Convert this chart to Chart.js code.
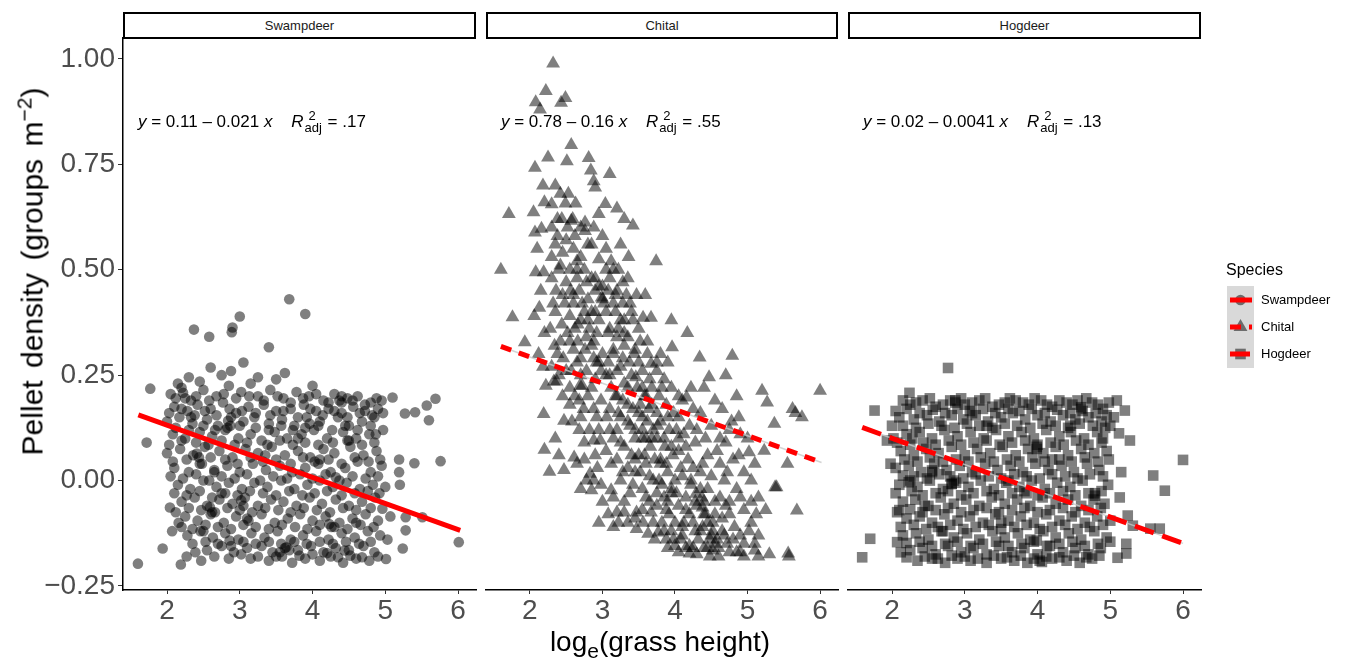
<!DOCTYPE html>
<html>
<head>
<meta charset="utf-8">
<title>Pellet density vs grass height</title>
<script src="https://cdn.jsdelivr.net/npm/chart.js@4.4.1/dist/chart.umd.min.js"></script>
<style>
  html, body { margin: 0; padding: 0; background: #fff; }
  #wrap { position: relative; width: 1346px; height: 662px; overflow: hidden; font-family: "Liberation Sans", Arial, sans-serif; }
  #wrap canvas { position: absolute; left: 0; top: 0; }
  .strip { position: absolute; top: 12px; height: 27px; box-sizing: border-box; border: 2px solid #000; background: #fff; font-size: 13px; color: #1a1a1a; text-align: center; line-height: 23px; }
  .eq { position: absolute; top: 112px; font-size: 17px; color: #000; white-space: nowrap; z-index: 2; }
  .eq .ss { display: inline-block; position: relative; width: 24px; height: 10px; font-size: 13px; }
  .eq .ss .sup { position: absolute; left: 5px; top: -9px; }
  .eq .ss .sub { position: absolute; left: 1px; top: 3px; }
  .ytitle { position: absolute; left: -219px; top: 253px; width: 500px; text-align: center; font-size: 30px; word-spacing: 4px; transform: rotate(-90deg); white-space: nowrap; z-index: 2; }
  .xtitle { position: absolute; left: 410px; top: 626px; width: 500px; text-align: center; font-size: 28px; white-space: nowrap; z-index: 2; }
  .ytitle sup, .xtitle sub { font-size: 21px; }
  .legend-title { position: absolute; left: 1226px; top: 261px; font-size: 16px; color: #000; z-index: 2; }
  .legend-label { position: absolute; left: 1261px; font-size: 13px; color: #000; z-index: 2; line-height: 16px; }
</style>
</head>
<body>
<div id="wrap">
  <canvas id="panel-0" width="1346" height="662"></canvas>
  <canvas id="panel-1" width="1346" height="662"></canvas>
  <canvas id="panel-2" width="1346" height="662"></canvas>
  <div class="ytitle">Pellet density (groups m<sup>−2</sup>)</div>
  <div class="xtitle">log<sub>e</sub>(grass height)</div>
  <div class="legend-title">Species</div>
</div>
<script>
(() => {
  const species = ["Swampdeer", "Chital", "Hogdeer"];
  const xTicks = [2, 3, 4, 5, 6];
  const yTicks = [-0.25, 0, 0.25, 0.5, 0.75, 1.0];
  const eqIntercept = ["0.11", "0.78", "0.02"];
  const eqSlope = ["0.021", "0.16", "0.0041"];
  const eqR2 = [".17", ".55", ".13"];

  // fitted lines, start and end
  const fitSwampdeer = [[1.606, 0.156], [6.03, -0.118]];
  const fitChital = [[1.60, 0.318], [6.02, 0.043]];
  const fitHogdeer = [[1.59, 0.126], [6.0, -0.149]];

  const swampdeerPts = [
    [1.60,-0.197],[1.72,0.09],[1.77,0.218],[1.94,-0.161],[2.19,-0.199],[2.27,-0.18],[2.39,-0.17],[2.47,-0.19],
    [2.04,-0.064],[2.07,-0.12],[2.16,-0.10],[2.37,0.358],[2.58,0.341],[3.0,0.389],[2.9,0.363],[2.89,0.352],
    [3.4,0.316],[3.68,0.43],[3.9,0.395],[6.01,-0.146],[5.76,0.046],[5.4,0.041],[5.69,0.194],[5.57,0.178],
    [5.6,0.143],[5.41,0.162],[5.27,0.159],[5.1,0.197],[5.19,0.05],[5.19,0.02],[5.2,-0.01],[5.24,-0.161],
    [5.28,-0.118],[5.28,-0.087],[5.51,-0.087],[5.07,-0.085],[5.03,-0.14],[5.01,-0.186],[4.96,-0.067],
    [2.6,0.268],[3.05,0.28],[2.75,0.25],[2.3,0.245],[2.45,0.235],[3.25,0.245],[3.5,0.24],[3.62,0.255],
    [2.88,0.26],[3.15,0.23],[2.15,0.23],[4.0,0.225],
    [2.05,0.205],[2.2,0.22],[2.33,0.19],[2.5,0.215],[2.68,0.2],[2.85,0.225],[3.02,0.21],[3.25,0.2],[3.42,0.215],
    [3.6,0.195],[3.78,0.21],[3.95,0.2],[4.15,0.19],[4.3,0.205],[4.48,0.195],[4.62,0.2],[4.8,0.185],[4.95,0.19],
    [2.1,0.175],[2.28,0.165],[2.42,0.18],[2.6,0.17],[2.77,0.185],[2.95,0.16],[3.12,0.175],[3.33,0.18],[3.5,0.165],
    [3.7,0.17],[3.88,0.18],[4.05,0.165],[4.22,0.17],[4.4,0.16],[4.56,0.175],[4.72,0.165],[4.9,0.17],
    [2.0,0.14],[2.17,0.15],[2.35,0.135],[2.55,0.145],[2.7,0.13],[2.88,0.15],[3.05,0.14],[3.2,0.15],[3.4,0.135],
    [3.58,0.145],[3.75,0.13],[3.92,0.15],[4.1,0.14],[4.35,0.15],[4.5,0.13],[4.68,0.14],[4.85,0.15],
    [2.08,0.11],[2.25,0.1],[2.45,0.115],[2.62,0.105],[2.8,0.12],[2.98,0.1],[3.15,0.11],[3.3,0.095],[3.48,0.115],
    [3.65,0.1],[3.85,0.11],[4.02,0.12],[4.2,0.1],[4.42,0.115],[4.6,0.1],[4.78,0.11],[4.97,0.12],
    [2.0,0.065],[2.18,0.075],[2.36,0.06],[2.52,0.08],[2.72,0.07],[2.9,0.055],[3.08,0.075],[3.25,0.065],[3.44,0.08],
    [3.62,0.06],[3.8,0.07],[3.97,0.055],[4.15,0.075],[4.3,0.065],[4.52,0.08],[4.7,0.06],[4.88,0.07],
    [2.1,0.03],[2.3,0.02],[2.48,0.04],[2.65,0.025],[2.83,0.035],[3.0,0.02],[3.18,0.04],[3.36,0.025],[3.55,0.035],
    [3.72,0.02],[3.9,0.03],[4.08,0.04],[4.25,0.02],[4.45,0.03],[4.62,0.045],[4.8,0.02],[4.95,0.035],
    [2.15,-0.01],[2.32,-0.02],[2.5,0.0],[2.68,-0.015],[2.85,-0.005],[3.03,-0.02],[3.2,-0.005],[3.38,-0.015],[3.57,0.0],
    [3.75,-0.02],[3.93,-0.01],[4.1,0.0],[4.28,-0.015],[4.47,-0.005],[4.65,-0.02],[4.83,-0.01],[5.0,-0.015],
    [2.2,-0.05],[2.38,-0.04],[2.55,-0.06],[2.72,-0.045],[2.9,-0.055],[3.07,-0.04],[3.25,-0.06],[3.43,-0.045],
    [3.6,-0.05],[3.78,-0.06],[3.96,-0.04],[4.13,-0.055],[4.32,-0.045],[4.5,-0.06],[4.68,-0.05],[4.86,-0.04],
    [2.25,-0.085],[2.42,-0.095],[2.6,-0.08],[2.78,-0.1],[2.95,-0.085],[3.12,-0.095],[3.3,-0.08],[3.48,-0.1],
    [3.66,-0.09],[3.83,-0.08],[4.0,-0.095],[4.18,-0.085],[4.37,-0.1],[4.55,-0.09],[4.73,-0.08],[4.9,-0.095],
    [2.28,-0.13],[2.46,-0.12],[2.63,-0.135],[2.8,-0.125],[2.98,-0.14],[3.16,-0.125],[3.34,-0.135],[3.52,-0.12],
    [3.7,-0.14],[3.87,-0.13],[4.05,-0.12],[4.22,-0.14],[4.4,-0.125],[4.58,-0.135],[4.76,-0.12],[4.93,-0.13],
    [2.55,-0.165],[2.75,-0.155],[2.92,-0.17],[3.1,-0.16],[3.3,-0.155],[3.45,-0.17],[3.62,-0.16],[3.8,-0.165],
    [3.98,-0.155],[4.15,-0.17],[4.32,-0.16],[4.5,-0.165],[4.7,-0.155],[4.85,-0.17],
    [3.15,-0.185],[3.4,-0.19],[3.58,-0.18],[3.72,-0.195],[3.9,-0.185],[4.1,-0.19],[4.25,-0.18],[4.42,-0.195],
    [4.6,-0.185],[4.78,-0.19],
    [2.41,0.064],[2.44,0.055],[3.02,-0.047],[3.05,-0.06],[2.59,-0.063],[2.62,-0.075],[3.64,-0.158],[3.68,-0.165],
    [2.86,-0.142],[2.84,0.142],[2.87,0.13],[2.22,0.208],[2.25,0.195],[4.23,-0.103],[4.26,-0.11],[4.44,-0.166],
    [4.32,0.008],[4.87,0.11],[4.48,0.095],[3.96,0.135],[4.37,0.19],[4.4,0.185],[3.55,-0.17],[3.1,-0.09],
    [2.65,0.02],[2.33,0.15],[3.8,0.1],[4.6,-0.1],[4.1,0.05],[3.35,0.06],[2.5,-0.12],[2.75,-0.03],
    [2.12,0.195],[2.4,0.2],[2.58,0.19],[2.78,0.205],[2.95,0.195],[3.13,0.2],[3.33,0.19],[3.52,0.2],[3.7,0.185],
    [3.87,0.195],[4.05,0.205],[4.22,0.185],[4.4,0.2],[4.55,0.19],[4.72,0.18],[4.88,0.195],
    [2.03,0.16],[2.2,0.17],[2.38,0.155],[2.52,0.165],[2.68,0.155],[2.86,0.17],[3.03,0.165],[3.22,0.16],[3.42,0.155],
    [3.6,0.165],[3.8,0.15],[3.97,0.17],[4.14,0.155],[4.3,0.165],[4.48,0.15],[4.65,0.16],[4.82,0.155],[4.97,0.16],
    [2.12,0.125],[2.3,0.12],[2.5,0.13],[2.66,0.12],[2.83,0.125],[3.0,0.13],[3.22,0.125],[3.4,0.12],[3.57,0.13],
    [3.73,0.12],[3.9,0.125],[4.08,0.13],[4.27,0.12],[4.45,0.13],[4.62,0.12],[4.8,0.13],
    [2.03,0.085],[2.2,0.095],[2.4,0.09],[2.57,0.085],[2.75,0.095],[2.93,0.085],[3.1,0.09],[3.38,0.085],[3.55,0.095],
    [3.73,0.085],[3.9,0.09],[4.08,0.085],[4.28,0.09],[4.5,0.095],[4.68,0.085],[4.85,0.09],
    [2.08,0.045],[2.27,0.05],[2.45,0.04],[2.6,0.055],[2.8,0.05],[2.97,0.04],[3.15,0.055],[3.32,0.045],[3.5,0.05],
    [3.7,0.04],[3.87,0.055],[4.03,0.045],[4.22,0.05],[4.4,0.04],[4.58,0.055],[4.77,0.045],[4.93,0.05],
    [2.05,0.01],[2.22,0.005],[2.4,0.015],[2.58,0.0],[2.75,0.01],[2.93,0.005],[3.1,0.015],[3.28,0.0],[3.46,0.01],
    [3.65,0.005],[3.83,0.015],[4.0,0.005],[4.18,0.015],[4.37,0.0],[4.55,0.01],[4.73,0.005],[4.9,0.01],
    [2.1,-0.03],[2.27,-0.035],[2.45,-0.025],[2.62,-0.04],[2.8,-0.03],[2.97,-0.035],[3.14,-0.025],[3.32,-0.03],
    [3.5,-0.035],[3.68,-0.025],[3.86,-0.035],[4.03,-0.03],[4.2,-0.025],[4.4,-0.035],[4.58,-0.03],[4.76,-0.025],[4.92,-0.03],
    [2.12,-0.075],[2.3,-0.065],[2.47,-0.07],[2.66,-0.075],[2.83,-0.065],[3.0,-0.07],[3.17,-0.075],[3.35,-0.065],
    [3.53,-0.07],[3.7,-0.075],[3.88,-0.065],[4.06,-0.07],[4.24,-0.075],[4.42,-0.065],[4.6,-0.07],[4.8,-0.065],
    [2.2,-0.11],[2.35,-0.115],[2.53,-0.105],[2.7,-0.11],[2.88,-0.115],[3.05,-0.105],[3.22,-0.11],[3.4,-0.115],
    [3.58,-0.105],[3.76,-0.11],[3.93,-0.115],[4.1,-0.105],[4.3,-0.11],[4.48,-0.115],[4.66,-0.105],[4.84,-0.11],
    [2.35,-0.15],[2.53,-0.145],[2.7,-0.15],[2.88,-0.155],[3.05,-0.145],[3.22,-0.15],[3.4,-0.145],[3.57,-0.15],
    [3.75,-0.145],[3.92,-0.15],[4.1,-0.145],[4.28,-0.15],[4.46,-0.145],[4.64,-0.15],[4.8,-0.145],
    [2.65,-0.18],[2.85,-0.185],[3.02,-0.175],[3.25,-0.18],[3.5,-0.18],[3.82,-0.178],[4.0,-0.175],[4.2,-0.172],
    [4.35,-0.182],[4.52,-0.178],[4.68,-0.182],[4.9,-0.18]
  ];

  const chitalPts = [
    [1.6,0.5],[1.71,0.632],[1.76,0.387],[1.93,0.328],
    [2.07,0.742],[2.05,0.636],[2.16,0.597],[2.07,0.588],[2.1,0.55],[2.08,0.494],[2.19,0.494],[2.13,0.41],[2.06,0.39],
    [2.22,0.225],[2.19,0.158],[2.2,0.073],[2.08,0.897],[2.14,0.88],[2.22,0.924],[2.25,0.766],[2.18,0.7],[2.2,0.66],
    [2.15,0.45],[2.2,0.35],[2.12,0.3],[2.18,0.27],
    [2.32,0.989],[2.43,0.896],[2.49,0.907],[2.51,0.757],[2.35,0.7],[2.42,0.68],[2.3,0.655],[2.49,0.657],[2.38,0.62],
    [2.35,0.56],[2.45,0.54],[2.4,0.5],[2.3,0.48],[2.45,0.44],[2.35,0.4],[2.28,0.36],[2.42,0.33],[2.38,0.3],[2.3,0.27],
    [2.33,0.235],[2.37,0.235],[2.45,0.2],[2.47,0.142],[2.35,0.1],[2.47,0.025],[2.27,0.021],[2.4,0.06],
    [2.57,0.796],[2.81,0.765],[2.63,0.657],[2.57,0.616],[2.59,0.62],[2.76,0.612],[2.76,0.592],[2.6,0.55],[2.7,0.53],
    [2.55,0.5],[2.65,0.48],[2.78,0.47],[2.6,0.44],[2.72,0.42],[2.55,0.39],[2.66,0.37],[2.78,0.34],[2.6,0.31],[2.7,0.29],
    [2.57,0.26],[2.69,0.225],[2.72,0.225],[2.62,0.2],[2.74,0.17],[2.58,0.14],[2.68,0.12],[2.75,0.09],[2.61,0.055],
    [2.65,0.04],[2.78,0.0],[2.7,-0.02],
    [2.84,0.735],[2.88,0.71],[2.9,0.695],[3.1,0.727],[3.04,0.656],[2.95,0.632],[3.0,0.58],[2.85,0.56],[2.95,0.525],
    [3.05,0.5],[2.9,0.48],[3.0,0.46],[2.99,0.434],[3.02,0.42],[2.85,0.4],[2.95,0.38],[3.08,0.35],[2.88,0.33],[3.0,0.3],
    [2.92,0.28],[3.05,0.25],[2.85,0.22],[2.98,0.19],[2.88,0.17],[3.06,0.15],[2.95,0.12],[2.88,0.095],[2.97,0.095],
    [3.05,0.07],[2.83,0.016],[2.88,0.0],[2.85,-0.023],[3.12,-0.023],[3.0,-0.05],[2.95,-0.1],[3.15,-0.11],[3.08,-0.08],
    [3.2,0.645],[3.3,0.62],[3.42,0.605],[3.25,0.56],[3.36,0.53],[3.15,0.5],[3.28,0.47],[3.2,0.45],[3.33,0.44],
    [3.38,0.42],[3.18,0.4],[3.3,0.38],[3.22,0.36],[3.35,0.34],[3.15,0.31],[3.28,0.29],[3.37,0.28],[3.2,0.26],
    [3.46,0.245],[3.3,0.23],[3.18,0.2],[3.35,0.18],[3.25,0.15],[3.38,0.13],[3.15,0.1],[3.3,0.08],[3.2,0.05],
    [3.35,0.03],[3.25,0.0],[3.38,-0.03],[3.2,-0.076],[3.3,-0.076],[3.35,-0.1],
    [3.74,0.52],[3.47,0.44],[3.59,0.44],[3.56,0.386],[3.67,0.386],[3.5,0.36],[3.62,0.33],[3.45,0.31],[3.67,0.277],
    [3.55,0.26],[3.65,0.24],[3.48,0.22],[3.58,0.2],[3.68,0.18],[3.5,0.16],[3.62,0.14],[3.45,0.12],[3.55,0.1],
    [3.66,0.08],[3.5,0.06],[3.6,0.04],[3.45,0.02],[3.7,0.0],[3.55,-0.02],[3.65,-0.05],[3.47,-0.076],[3.67,-0.076],
    [3.47,-0.115],[3.63,-0.126],[3.77,-0.123],[3.56,-0.1],
    [3.95,0.38],[3.96,0.316],[3.8,0.3],[3.9,0.28],[3.75,0.26],[3.85,0.24],[3.95,0.22],[3.78,0.2],[3.88,0.18],
    [3.98,0.16],[3.8,0.14],[3.92,0.12],[3.75,0.1],[3.86,0.08],[3.97,0.06],[3.8,0.04],[3.9,0.02],[3.78,0.0],
    [3.95,-0.02],[3.85,-0.04],[3.75,-0.06],[3.92,-0.08],[3.82,-0.1],[3.95,-0.12],[3.88,-0.14],[4.0,-0.155],
    [4.17,0.35],[4.16,0.197],[4.1,0.19],[4.25,0.17],[4.05,0.15],[4.2,0.13],[4.12,0.11],[4.28,0.09],[4.05,0.07],
    [4.18,0.05],[4.25,0.03],[4.1,0.01],[4.22,-0.01],[4.29,-0.031],[4.15,-0.04],[4.05,-0.06],[4.38,-0.064],
    [4.2,-0.08],[4.12,-0.1],[4.28,-0.12],[4.08,-0.14],[4.2,-0.155],[4.2,-0.173],
    [4.34,0.292],[4.47,0.245],[4.4,0.22],[4.55,0.19],[4.35,0.16],[4.5,0.13],[4.42,0.1],[4.58,0.07],[4.38,0.04],
    [4.37,-0.04],[4.45,-0.02],[4.55,-0.05],[4.4,-0.08],[4.52,-0.1],[4.35,-0.12],[4.48,-0.14],[4.4,-0.16],
    [4.52,-0.166],[4.6,-0.18],
    [4.79,0.296],[4.7,0.25],[4.85,0.2],[4.65,0.17],[4.78,0.14],[4.9,0.11],[4.7,0.09],[5.02,0.067],[4.8,0.05],
    [4.95,0.02],[4.68,0.0],[4.85,-0.02],[4.75,-0.05],[4.95,-0.07],[4.65,-0.09],[4.82,-0.11],[4.9,-0.13],
    [4.72,-0.15],[4.85,-0.17],[4.95,-0.18],
    [5.2,0.213],[5.27,0.185],[5.37,0.135],[5.23,0.071],[5.1,0.04],[5.05,0.0],[5.38,-0.016],[5.15,-0.04],
    [5.25,-0.07],[5.05,-0.1],[5.15,-0.13],[5.1,-0.166],[5.3,-0.175],[5.57,-0.18],[5.56,-0.173],[5.55,0.04],
    [5.62,0.17],[5.66,0.16],[5.75,0.15],[6.0,0.213],[5.68,-0.071],[5.4,-0.016],
    [2.55,0.33],[2.62,0.36],[2.75,0.4],[2.8,0.38],[2.9,0.45],[3.0,0.43],[3.05,0.4],[2.95,0.28],[3.1,0.25],
    [3.15,0.3],[3.2,0.2],[2.7,0.25],[2.85,0.32],[2.55,0.18],[3.3,0.35],[3.4,0.4],[3.1,0.48],[2.65,0.5],[2.6,0.42],
    [3.5,0.28],[3.6,0.2],[3.7,0.12],[3.8,0.05],[3.9,-0.05],[4.0,-0.1],[4.1,-0.13],[4.25,-0.16],[4.3,-0.06],
    [4.35,-0.02],[4.4,-0.05],[4.45,-0.1],[4.5,-0.13],[4.55,-0.15],[4.6,-0.16],[4.65,-0.12],[4.7,-0.06],[4.0,0.0],
    [4.05,0.1],[3.6,0.1],[3.75,0.16],[3.35,0.22],[3.2,0.12],[3.45,0.05],[3.55,0.15],[3.25,0.38],[3.15,0.42],
    [2.3,0.6],[2.38,0.58],[2.44,0.62],[2.52,0.6],[2.3,0.53],[2.42,0.51],[2.5,0.47],[2.36,0.45],[2.48,0.42],
    [2.32,0.42],[2.44,0.37],[2.52,0.35],[2.34,0.32],[2.46,0.29],[2.5,0.26],[2.4,0.25],[2.55,0.22],[2.5,0.57],
    [2.56,0.45],[2.53,0.68],
    [2.62,0.58],[2.7,0.6],[2.8,0.56],[2.88,0.6],[2.65,0.52],[2.75,0.5],[2.85,0.48],[2.95,0.46],[2.68,0.45],
    [2.8,0.43],[2.9,0.4],[2.7,0.38],[2.82,0.36],[2.92,0.35],[2.66,0.33],[2.76,0.31],[2.88,0.29],[2.98,0.26],
    [2.65,0.28],[2.78,0.26],[2.9,0.24],[2.68,0.19],[2.8,0.2],[2.92,0.15],[2.7,0.15],[2.82,0.12],[2.9,0.06],
    [2.75,0.05],[2.93,0.03],[2.98,-0.01],
    [3.05,0.55],[3.12,0.52],[3.22,0.5],[3.35,0.48],[3.08,0.45],[3.18,0.44],[3.28,0.42],[3.42,0.38],[3.1,0.36],
    [3.2,0.34],[3.3,0.32],[3.44,0.3],[3.08,0.28],[3.25,0.27],[3.4,0.25],[3.12,0.22],[3.28,0.19],[3.42,0.17],
    [3.1,0.17],[3.22,0.16],[3.35,0.14],[3.45,0.1],[3.1,0.12],[3.25,0.09],[3.4,0.06],[3.12,0.04],[3.28,0.02],
    [3.42,-0.01],[3.15,-0.04],[3.3,-0.05],[3.45,-0.09],[3.22,-0.1],
    [3.52,0.33],[3.62,0.3],[3.75,0.28],[3.55,0.22],[3.68,0.22],[3.82,0.22],[3.52,0.18],[3.64,0.17],[3.76,0.13],
    [3.9,0.15],[3.55,0.12],[3.68,0.1],[3.85,0.1],[3.95,0.08],[3.58,0.06],[3.72,0.05],[3.88,0.04],[3.52,0.02],
    [3.65,0.01],[3.82,-0.01],[3.95,-0.03],[3.6,-0.04],[3.75,-0.03],[3.88,-0.07],[3.55,-0.07],[3.7,-0.1],
    [3.85,-0.12],[3.98,-0.14],[3.72,-0.14],[3.9,-0.16],
    [4.05,0.2],[4.22,0.22],[4.02,0.12],[4.15,0.08],[4.3,0.12],[4.45,0.06],[4.08,0.03],[4.22,0.0],[4.35,0.02],
    [4.5,0.01],[4.02,-0.03],[4.15,-0.07],[4.28,-0.05],[4.42,-0.08],[4.55,-0.08],[4.1,-0.11],[4.25,-0.1],
    [4.38,-0.11],[4.52,-0.12],[4.05,-0.17],[4.32,-0.14],[4.45,-0.16],[4.58,-0.14],[4.3,-0.175],[4.48,-0.18],[4.15,-0.16],
    [4.62,0.1],[4.75,0.12],[4.88,0.15],[4.62,0.04],[4.72,0.02],[4.88,0.06],[5.0,0.1],[4.62,-0.04],[4.75,-0.08],
    [4.9,-0.04],[5.05,-0.05],[4.68,-0.13],[4.8,-0.14],[4.95,-0.15],[5.1,-0.15],[4.75,-0.17],[4.9,-0.17],
    [5.15,-0.18],[5.02,-0.12],[5.12,-0.08]
  ];

  const hogdeerPts = [
    [2.77,0.267],[2.24,0.208],[1.76,0.166],[1.7,-0.138],[1.59,-0.182],[1.93,0.095],[6.0,0.049],[5.59,0.012],
    [5.75,-0.024],[5.27,0.095],[5.12,0.112],[5.2,0.166],[5.09,0.19],[5.05,0.15],[5.24,-0.083],[5.31,-0.107],
    [5.55,-0.114],[5.68,-0.114],[5.22,-0.15],[5.22,-0.173],[5.1,-0.183],[2.07,-0.075],[2.07,-0.146],[2.12,-0.17],
    [2.0,0.13],[1.98,0.04],[5.15,0.02],[5.13,-0.04],
    [2.25,0.18],[2.42,0.19],[2.6,0.175],[2.8,0.19],[2.87,0.185],[3.0,0.18],[3.2,0.19],[3.38,0.175],[3.55,0.185],
    [3.7,0.19],[3.88,0.18],[4.05,0.19],[4.2,0.175],[4.4,0.185],[4.55,0.19],[4.6,0.174],[4.75,0.185],[4.9,0.17],
    [2.1,0.15],[2.3,0.145],[2.48,0.155],[2.65,0.14],[2.82,0.155],[2.98,0.145],[3.15,0.155],[3.32,0.14],[3.5,0.15],
    [3.66,0.16],[3.83,0.145],[4.0,0.155],[4.18,0.14],[4.35,0.155],[4.52,0.145],[4.7,0.15],[4.88,0.14],[5.0,0.13],
    [2.02,0.1],[2.2,0.11],[2.38,0.115],[2.55,0.1],[2.72,0.12],[2.9,0.105],[3.08,0.115],[3.26,0.1],[3.43,0.12],
    [3.6,0.105],[3.78,0.115],[3.95,0.1],[4.12,0.12],[4.3,0.105],[4.46,0.115],[4.64,0.1],[4.82,0.115],
    [2.12,0.07],[2.3,0.06],[2.47,0.075],[2.64,0.065],[2.82,0.08],[3.0,0.06],[3.17,0.075],[3.35,0.065],[3.52,0.08],
    [3.7,0.06],[3.87,0.075],[3.99,0.075],[4.08,0.065],[4.25,0.08],[4.42,0.06],[4.6,0.075],[4.78,0.065],[4.95,0.07],
    [2.05,0.03],[2.23,0.035],[2.4,0.02],[2.55,0.024],[2.58,0.04],[2.75,0.025],[2.93,0.035],[3.1,0.02],[3.28,0.04],
    [3.45,0.025],[3.63,0.035],[3.8,0.02],[3.97,0.04],[4.15,0.025],[4.33,0.035],[4.5,0.02],[4.68,0.04],[4.85,0.025],
    [2.1,-0.01],[2.23,-0.004],[2.35,-0.015],[2.52,0.0],[2.7,-0.02],[2.82,-0.008],[2.88,-0.005],[3.05,-0.015],
    [3.22,0.0],[3.4,-0.02],[3.57,-0.005],[3.75,-0.015],[3.92,0.0],[4.1,-0.02],[4.27,-0.005],[4.45,-0.015],
    [4.62,0.0],[4.79,-0.036],[4.97,-0.01],
    [2.15,-0.05],[2.32,-0.045],[2.5,-0.06],[2.67,-0.04],[2.85,-0.055],[3.02,-0.045],[3.2,-0.06],[3.37,-0.04],
    [3.55,-0.055],[3.72,-0.045],[3.9,-0.06],[4.07,-0.04],[4.25,-0.055],[4.42,-0.045],[4.6,-0.06],[4.77,-0.045],
    [4.92,-0.055],
    [2.2,-0.09],[2.38,-0.085],[2.55,-0.1],[2.72,-0.08],[2.9,-0.095],[3.07,-0.085],[3.25,-0.1],[3.42,-0.08],
    [3.6,-0.095],[3.77,-0.085],[3.95,-0.1],[4.12,-0.08],[4.3,-0.095],[4.47,-0.085],[4.65,-0.1],[4.82,-0.085],
    [5.0,-0.095],
    [2.15,-0.13],[2.33,-0.125],[2.5,-0.14],[2.68,-0.12],[2.85,-0.135],[3.03,-0.125],[3.2,-0.14],[3.38,-0.12],
    [3.55,-0.135],[3.73,-0.125],[3.9,-0.14],[3.99,-0.142],[4.08,-0.12],[4.25,-0.135],[4.43,-0.125],[4.6,-0.14],
    [4.78,-0.12],[4.95,-0.135],
    [2.25,-0.165],[2.42,-0.16],[2.6,-0.175],[2.77,-0.155],[2.95,-0.17],[3.12,-0.16],[3.3,-0.175],[3.47,-0.155],
    [3.65,-0.17],[3.82,-0.16],[4.0,-0.175],[4.17,-0.155],[4.35,-0.17],[4.52,-0.16],[4.7,-0.175],[4.87,-0.16],
    [2.35,-0.19],[2.55,-0.185],[2.73,-0.195],[2.9,-0.185],[3.08,-0.19],[3.3,-0.195],[3.5,-0.185],[3.68,-0.19],
    [3.86,-0.195],[4.06,-0.193],[4.2,-0.185],[4.4,-0.19],[4.58,-0.195],[4.75,-0.185],
    [2.82,-0.008],[2.85,0.0],[3.99,0.08],[2.25,0.0],[4.79,-0.03],[2.55,0.02],[2.87,0.19],[4.6,0.17],[4.03,-0.19],
    [2.28,0.1],[3.3,0.13],[3.6,0.0],[4.2,0.05],[2.7,-0.12],[3.5,-0.1],[4.45,0.13],[3.1,0.16],[2.45,-0.06],
    [3.85,-0.03],[4.9,0.1],
    [2.15,0.19],[2.33,0.185],[2.52,0.195],[2.7,0.18],[2.95,0.195],[3.1,0.185],[3.28,0.195],[3.47,0.18],[3.62,0.195],
    [3.8,0.185],[3.96,0.195],[4.13,0.18],[4.3,0.19],[4.48,0.18],[4.67,0.195],[4.83,0.18],[4.98,0.185],
    [2.05,0.165],[2.2,0.17],[2.38,0.16],[2.56,0.168],[2.73,0.16],[2.9,0.17],[3.07,0.165],[3.25,0.17],[3.42,0.16],
    [3.6,0.17],[3.75,0.165],[3.92,0.17],[4.1,0.16],[4.27,0.168],[4.45,0.16],[4.62,0.165],[4.8,0.16],[4.95,0.155],
    [2.15,0.13],[2.33,0.125],[2.5,0.135],[2.68,0.13],[2.86,0.125],[3.03,0.135],[3.2,0.13],[3.38,0.125],[3.55,0.135],
    [3.72,0.13],[3.9,0.125],[4.07,0.135],[4.25,0.13],[4.42,0.125],[4.58,0.135],[4.76,0.13],[4.93,0.125],
    [2.07,0.09],[2.25,0.085],[2.43,0.09],[2.6,0.085],[2.78,0.095],[2.95,0.085],[3.12,0.09],[3.3,0.095],[3.48,0.085],
    [3.65,0.09],[3.83,0.095],[4.0,0.085],[4.18,0.09],[4.36,0.085],[4.53,0.095],[4.7,0.085],[4.88,0.09],
    [2.17,0.05],[2.35,0.045],[2.52,0.055],[2.7,0.045],[2.88,0.05],[3.05,0.045],[3.22,0.055],[3.4,0.045],[3.58,0.05],
    [3.75,0.045],[3.93,0.055],[4.1,0.045],[4.3,0.05],[4.47,0.045],[4.65,0.055],[4.83,0.045],[4.98,0.05],
    [2.15,0.012],[2.3,0.01],[2.48,0.005],[2.65,0.015],[2.8,0.01],[2.98,0.005],[3.15,0.015],[3.33,0.01],[3.5,0.005],
    [3.68,0.015],[3.85,0.01],[4.03,0.005],[4.2,0.015],[4.38,0.01],[4.55,0.005],[4.72,0.015],[4.9,0.01],
    [2.05,-0.03],[2.27,-0.025],[2.42,-0.035],[2.6,-0.03],[2.77,-0.025],[2.95,-0.035],[3.12,-0.03],[3.3,-0.025],
    [3.47,-0.035],[3.65,-0.03],[3.82,-0.025],[4.0,-0.035],[4.17,-0.03],[4.35,-0.025],[4.52,-0.035],[4.7,-0.03],[4.88,-0.025],
    [2.1,-0.07],[2.25,-0.068],[2.42,-0.075],[2.6,-0.07],[2.77,-0.065],[2.95,-0.075],[3.12,-0.07],[3.3,-0.065],
    [3.47,-0.075],[3.65,-0.07],[3.82,-0.065],[4.0,-0.075],[4.17,-0.07],[4.35,-0.065],[4.52,-0.075],[4.7,-0.07],[4.87,-0.065],
    [2.12,-0.11],[2.3,-0.105],[2.47,-0.115],[2.63,-0.11],[2.8,-0.105],[2.98,-0.115],[3.15,-0.11],[3.33,-0.105],
    [3.5,-0.115],[3.68,-0.11],[3.85,-0.105],[4.03,-0.115],[4.2,-0.11],[4.38,-0.105],[4.55,-0.115],[4.72,-0.11],[4.9,-0.105],
    [2.2,-0.148],[2.38,-0.145],[2.55,-0.155],[2.73,-0.15],[2.9,-0.145],[3.08,-0.155],[3.25,-0.15],[3.43,-0.145],
    [3.6,-0.155],[3.78,-0.15],[3.95,-0.145],[4.13,-0.155],[4.3,-0.15],[4.48,-0.145],[4.65,-0.155],[4.83,-0.15],[5.0,-0.145],
    [2.2,-0.182],[2.45,-0.18],[2.63,-0.185],[2.82,-0.178],[3.0,-0.18],[3.18,-0.185],[3.4,-0.178],[3.58,-0.182],
    [3.77,-0.178],[3.95,-0.185],[4.12,-0.18],[4.3,-0.182],[4.5,-0.178],[4.67,-0.182],[4.85,-0.178]
  ];

  const panelLeft = [123, 486, 848];
  const panelRight = [476, 838, 1201];
  const pointStyles = ["circle", "triangle", "rect"];
  const pointRadii = [5.3, 8, 7.5];
  const lineDash = [[], [11, 8], [20, 9]];
  const panelPoints = [swampdeerPts, chitalPts, hogdeerPts];
  const panelFits = [fitSwampdeer, fitChital, fitHogdeer];

  const FONT = "'Liberation Sans', Arial, sans-serif";
  const POINT_FILL = "rgba(0,0,0,0.5)";
  const W = 1346;
  const wrap = document.getElementById("wrap");

  // strips, equations, legend labels as html text
  species.forEach((name, i) => {
    const strip = document.createElement("div");
    strip.className = "strip";
    strip.style.left = panelLeft[i] + "px";
    strip.style.width = (panelRight[i] - panelLeft[i]) + "px";
    strip.textContent = name;
    wrap.appendChild(strip);

    const eq = document.createElement("div");
    eq.className = "eq";
    eq.style.left = (panelLeft[i] + 15) + "px";
    eq.innerHTML = `<i>y</i> = ${eqIntercept[i]} – ${eqSlope[i]} <i>x</i>&nbsp;&nbsp;&nbsp;&nbsp;<i>R</i><span class="ss"><span class="sup">2</span><span class="sub">adj</span></span>= ${eqR2[i]}`;
    wrap.appendChild(eq);

    const lab = document.createElement("div");
    lab.className = "legend-label";
    lab.style.top = (300 + i * 27 - 8) + "px";
    lab.textContent = name;
    wrap.appendChild(lab);
  });

  const legendKeys = {
    id: "legendKeys",
    afterDraw(chart) {
      const ctx = chart.ctx;
      ctx.save();
      ctx.fillStyle = "#d9d9d9";
      ctx.fillRect(1227, 286, 27, 82);
      species.forEach((_, i) => {
        const cy = 300 + i * 27;
        const cx = 1240.5;
        const r = pointRadii[i];
        ctx.fillStyle = POINT_FILL;
        ctx.beginPath();
        if (pointStyles[i] === "circle") {
          ctx.arc(cx, cy, r, 0, Math.PI * 2);
        } else if (pointStyles[i] === "triangle") {
          ctx.moveTo(cx, cy - r);
          ctx.lineTo(cx + r * 0.866, cy + r / 2);
          ctx.lineTo(cx - r * 0.866, cy + r / 2);
          ctx.closePath();
        } else {
          const s = r * Math.SQRT1_2;
          ctx.rect(cx - s, cy - s, 2 * s, 2 * s);
        }
        ctx.fill();
        ctx.strokeStyle = "#ff0000";
        ctx.lineWidth = 5;
        ctx.setLineDash(lineDash[i]);
        ctx.beginPath();
        ctx.moveTo(1230, cy);
        ctx.lineTo(1252, cy);
        ctx.stroke();
      });
      ctx.restore();
    },
  };

  function makePanel(i) {
    const showY = i === 0;
    const fit = panelFits[i];
    const datasets = [
      {
        type: "line",
        data: fit.map(([x, y]) => ({ x, y })),
        borderColor: "#ff0000",
        borderWidth: 5,
        borderDash: lineDash[i],
        pointRadius: 0,
        fill: false,
        order: 0,
      },
      {
        type: "scatter",
        data: panelPoints[i].map(([x, y]) => ({ x, y })),
        pointStyle: pointStyles[i],
        pointRadius: pointRadii[i],
        backgroundColor: POINT_FILL,
        borderWidth: 0,
        order: 2,
      },
    ];
    if (lineDash[i].length) {
      datasets.push({
        type: "line",
        data: fit.map(([x, y]) => ({ x, y })),
        borderColor: "rgba(200,200,200,0.8)",
        borderWidth: 1.5,
        pointRadius: 0,
        fill: false,
        order: 1,
      });
    }

    return new Chart(document.getElementById(`panel-${i}`), {
      type: "scatter",
      data: { datasets },
      plugins: i === 2 ? [legendKeys] : [],
      options: {
        responsive: false,
        animation: false,
        events: [],
        layout: { padding: { left: showY ? 0 : panelLeft[i], right: W - panelRight[i], top: 38, bottom: 32 } },
        plugins: { legend: { display: false }, tooltip: { enabled: false } },
        scales: {
          x: {
            type: "linear",
            min: 1.395,
            max: 6.247,
            afterBuildTicks: (s) => { s.ticks = xTicks.map((v) => ({ value: v })); },
            afterFit: (s) => { s.height = 40; },
            grid: { display: true, drawOnChartArea: false, drawTicks: true, tickLength: 4, color: "#333" },
            border: { display: true, color: "#000", width: 1.5 },
            ticks: { color: "#4d4d4d", font: { family: FONT, size: 28 }, padding: 0, maxRotation: 0 },
          },
          y: {
            type: "linear",
            display: showY,
            min: -0.2595,
            max: 1.0495,
            afterBuildTicks: (s) => { s.ticks = yTicks.map((v) => ({ value: v })); },
            afterFit: (s) => { s.width = showY ? 123 : 0; },
            grid: { display: true, drawOnChartArea: false, drawTicks: true, tickLength: 5, color: "#333" },
            border: { display: true, color: "#000", width: 1.5 },
            ticks: {
              color: "#4d4d4d",
              font: { family: FONT, size: 28 },
              padding: 3,
              callback: (v) => (v < 0 ? "−" + Math.abs(v).toFixed(2) : v.toFixed(2)),
            },
          },
        },
      },
    });
  }

  species.forEach((_, i) => makePanel(i));
})();
</script>
</body>
</html>
